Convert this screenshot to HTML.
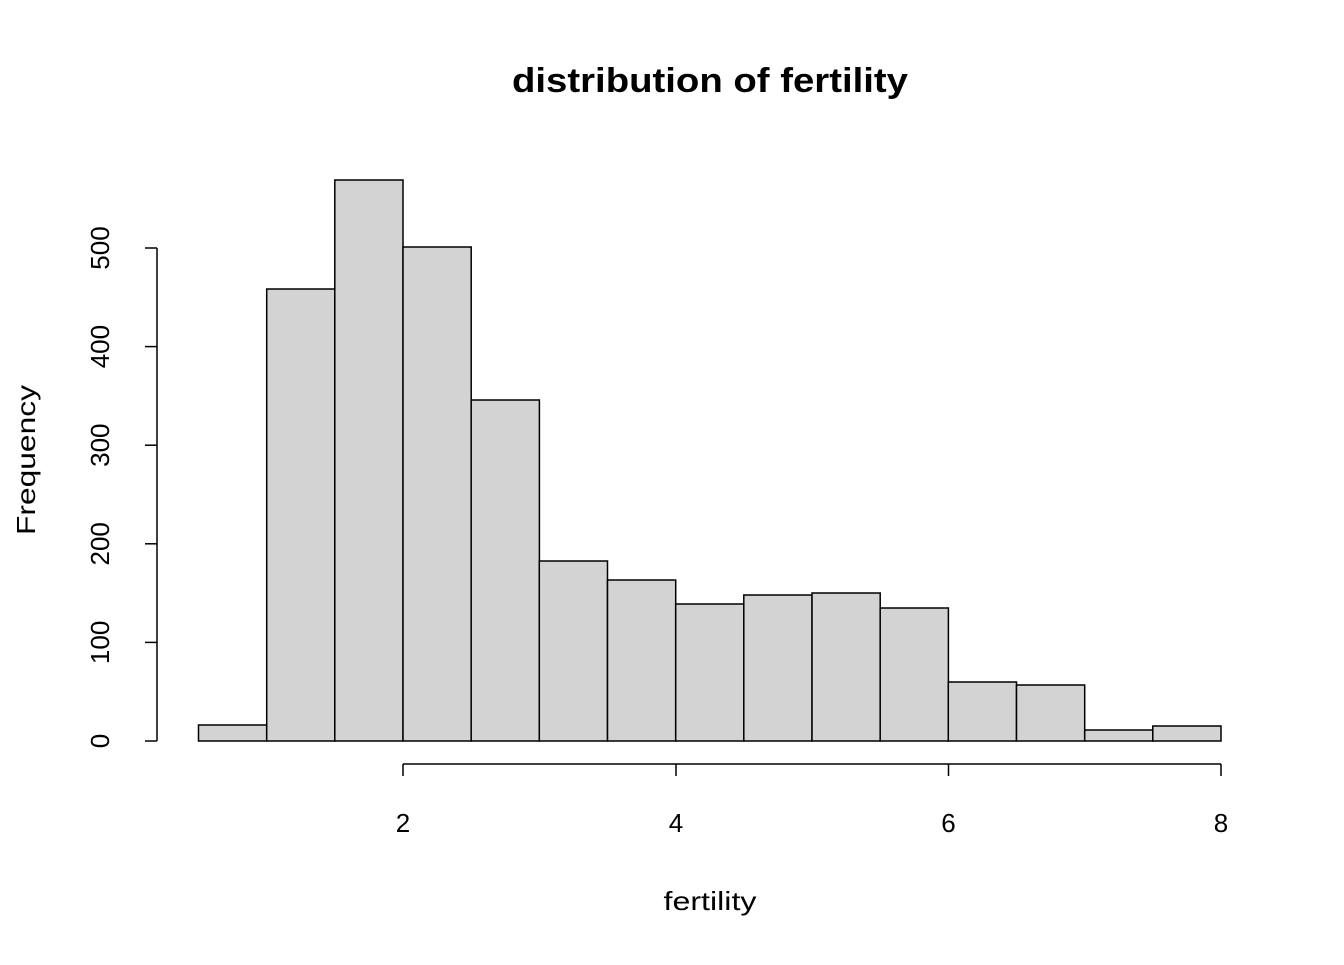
<!DOCTYPE html>
<html><head><meta charset="utf-8"><style>html,body{margin:0;padding:0;background:#fff}</style></head>
<body>
<svg width="1344" height="960" xmlns="http://www.w3.org/2000/svg" font-family="Liberation Sans, Arial, sans-serif">
<rect width="1344" height="960" fill="#fff"/>
<text x="710" y="92" font-size="34" font-weight="bold" text-anchor="middle" textLength="396" lengthAdjust="spacingAndGlyphs">distribution of fertility</text>
<g fill="#d3d3d3" stroke="#000" stroke-width="1.5">
<rect x="198.5" y="725" width="68.2" height="16"/>
<rect x="266.7" y="289" width="68.2" height="452"/>
<rect x="334.8" y="180" width="68.2" height="561"/>
<rect x="403" y="247" width="68.2" height="494"/>
<rect x="471.2" y="400" width="68.2" height="341"/>
<rect x="539.3" y="561" width="68.2" height="180"/>
<rect x="607.5" y="580" width="68.2" height="161"/>
<rect x="675.7" y="604" width="68.2" height="137"/>
<rect x="743.8" y="595" width="68.2" height="146"/>
<rect x="812" y="593" width="68.2" height="148"/>
<rect x="880.2" y="608" width="68.2" height="133"/>
<rect x="948.3" y="682" width="68.2" height="59"/>
<rect x="1016.5" y="685" width="68.2" height="56"/>
<rect x="1084.7" y="730" width="68.2" height="11"/>
<rect x="1152.8" y="726" width="68.2" height="15"/>
</g>
<g stroke="#000" stroke-width="1.5" fill="none">
<line x1="157" y1="248" x2="157" y2="741"/>
<line x1="145" y1="741" x2="157" y2="741"/>
<line x1="145" y1="642.4" x2="157" y2="642.4"/>
<line x1="145" y1="543.8" x2="157" y2="543.8"/>
<line x1="145" y1="445.2" x2="157" y2="445.2"/>
<line x1="145" y1="346.6" x2="157" y2="346.6"/>
<line x1="145" y1="248" x2="157" y2="248"/>
<line x1="403" y1="764" x2="1221" y2="764"/>
<line x1="403" y1="764" x2="403" y2="776"/>
<line x1="676" y1="764" x2="676" y2="776"/>
<line x1="948.5" y1="764" x2="948.5" y2="776"/>
<line x1="1221" y1="764" x2="1221" y2="776"/>
</g>
<g font-size="26" text-anchor="middle">
<text transform="translate(109,741) rotate(-90)">0</text>
<text transform="translate(109,642.4) rotate(-90)">100</text>
<text transform="translate(109,543.8) rotate(-90)">200</text>
<text transform="translate(109,445.2) rotate(-90)">300</text>
<text transform="translate(109,346.6) rotate(-90)">400</text>
<text transform="translate(109,248) rotate(-90)">500</text>
<text x="403" y="832">2</text>
<text x="676" y="832">4</text>
<text x="948.5" y="832">6</text>
<text x="1221" y="832">8</text>
<text x="710" y="910" textLength="93" lengthAdjust="spacingAndGlyphs">fertility</text>
<text transform="translate(35,460) rotate(-90)" textLength="150" lengthAdjust="spacingAndGlyphs">Frequency</text>
</g>
</svg>
</body></html>
